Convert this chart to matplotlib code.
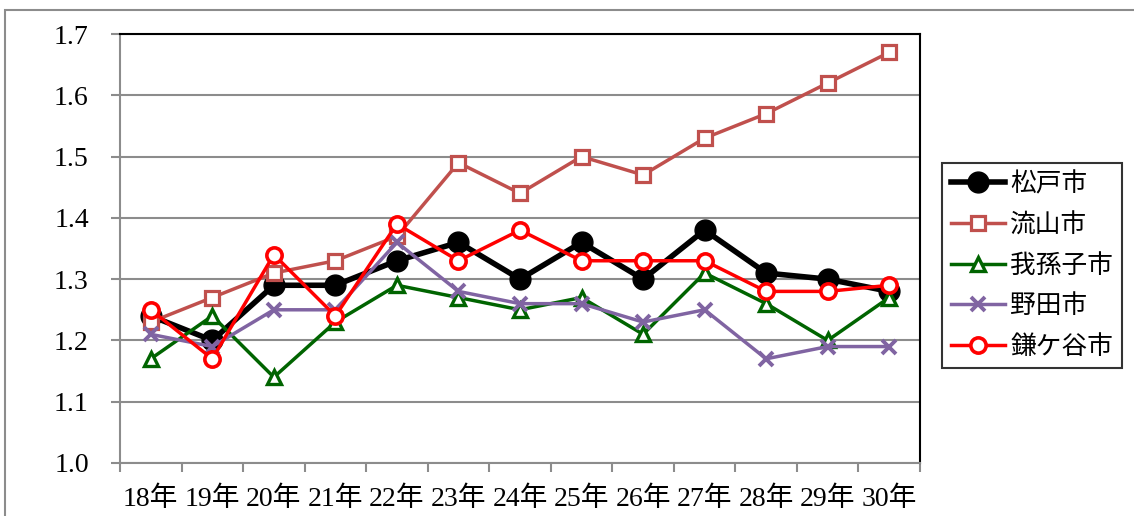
import matplotlib.pyplot as plt
from matplotlib.patches import Rectangle

plt.rcParams['font.family'] = ['Liberation Serif', 'Noto Sans CJK JP']

years = ["18年", "19年", "20年", "21年", "22年", "23年", "24年",
         "25年", "26年", "27年", "28年", "29年", "30年"]

matsudo = [1.24, 1.20, 1.29, 1.29, 1.33, 1.36, 1.30, 1.36, 1.30, 1.38, 1.31, 1.30, 1.28]
nagareyama = [1.23, 1.27, 1.31, 1.33, 1.37, 1.49, 1.44, 1.50, 1.47, 1.53, 1.57, 1.62, 1.67]
abiko = [1.17, 1.24, 1.14, 1.23, 1.29, 1.27, 1.25, 1.27, 1.21, 1.31, 1.26, 1.20, 1.27]
noda = [1.21, 1.19, 1.25, 1.25, 1.36, 1.28, 1.26, 1.26, 1.23, 1.25, 1.17, 1.19, 1.19]
kamagaya = [1.25, 1.17, 1.34, 1.24, 1.39, 1.33, 1.38, 1.33, 1.33, 1.33, 1.28, 1.28, 1.29]

fig = plt.figure(figsize=(11.34, 5.16), dpi=100)
ax = fig.add_axes([120 / 1134, 1 - 463 / 516, 800 / 1134, 429 / 516])

# outer chart border (only top/left visible in the original)
fig.patches.append(Rectangle((5 / 1134, -0.1), 1.2, (516 - 10) / 516 + 0.1,
                             transform=fig.transFigure, fill=False,
                             edgecolor="#8c8c8c", linewidth=1.5))

x = list(range(len(years)))

ax.plot(x, matsudo, color="black", linewidth=4, marker="o", markersize=15,
        label="松戸市", zorder=3)
ax.plot(x, nagareyama, color="#C0504D", linewidth=2.5, marker="s", markersize=10,
        markerfacecolor="white", markeredgewidth=2.3, label="流山市", zorder=3)
ax.plot(x, abiko, color="#006400", linewidth=2.5, marker="^", markersize=10.5,
        markerfacecolor="white", markeredgewidth=2.4, label="我孫子市", zorder=3)
ax.plot(x, noda, color="#8064A2", linewidth=2.5, marker="x", markersize=10,
        markeredgewidth=2.8, label="野田市", zorder=3)
ax.plot(x, kamagaya, color="#FF0000", linewidth=2.5, marker="o", markersize=11,
        markerfacecolor="white", markeredgewidth=2.6, label="鎌ケ谷市", zorder=4)

ax.set_xlim(-0.5, len(years) - 0.5)
ax.set_ylim(1.0, 1.7)
ax.set_yticks([1.0, 1.1, 1.2, 1.3, 1.4, 1.5, 1.6, 1.7])
ax.set_yticklabels(["1.0", "1.1", "1.2", "1.3", "1.4", "1.5", "1.6", "1.7"])
ax.grid(axis="y", color="#8c8c8c", linewidth=1.5)
ax.set_axisbelow(True)

# ticks between categories, labels at centres
ax.set_xticks([i - 0.5 for i in range(len(years) + 1)])
ax.set_xticklabels([])
ax.set_xticks(x, minor=True)
ax.set_xticklabels(years, minor=True)
ax.tick_params(axis="x", which="major", length=6.5, width=1.5, color="#8c8c8c")
ax.tick_params(axis="x", which="minor", length=0, pad=17, labelsize=20)
ax.tick_params(axis="y", length=6.5, width=1.5, color="#8c8c8c", labelsize=20, pad=16)

for side in ["left", "bottom"]:
    ax.spines[side].set_color("#8c8c8c")
    ax.spines[side].set_linewidth(1.5)
for side in ["top", "right"]:
    ax.spines[side].set_color("black")
    ax.spines[side].set_linewidth(1.5)

leg = ax.legend(loc="upper left", bbox_to_anchor=(942 / 1134, 1 - 163 / 516),
                bbox_transform=fig.transFigure, fontsize=18.5, frameon=True,
                fancybox=False, edgecolor="black", handlelength=2.1,
                borderpad=0.35, labelspacing=0.65, handletextpad=0.2,
                borderaxespad=0)
leg.get_frame().set_linewidth(1.5)

fig.savefig("out.png", dpi=100)
